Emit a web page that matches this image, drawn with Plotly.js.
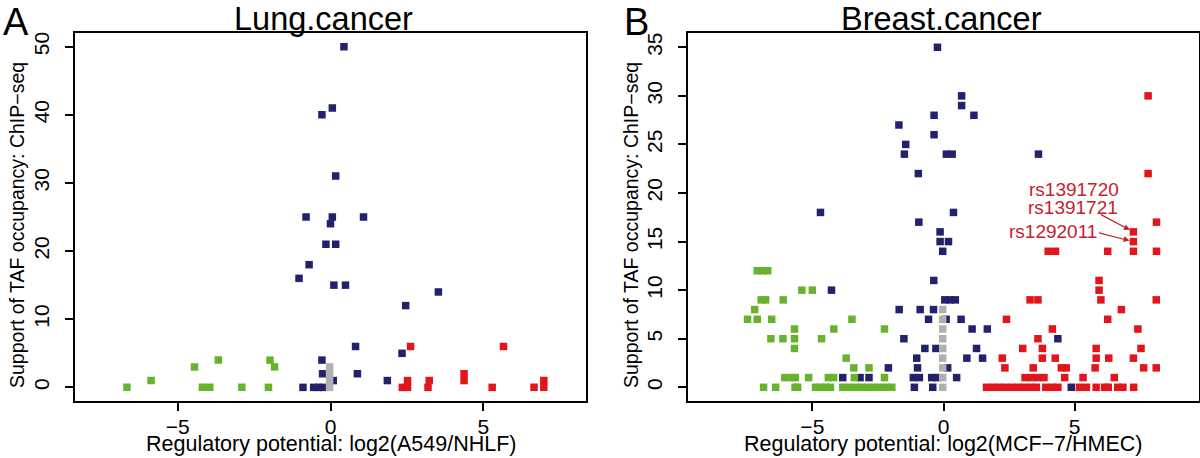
<!DOCTYPE html>
<html>
<head>
<meta charset="utf-8">
<script src="https://cdn.plot.ly/plotly-3.0.1.min.js"></script>
<style>html,body{margin:0;padding:0;background:#fff}#chart{width:1200px;height:458px}</style>
</head>
<body>
<div id="chart"></div>
<script>
// ---------- Data: Panel A (Lung.cancer) ----------
const lungNavyX = [0.44, 0.06, -0.28, 0.17, -0.80, 0.06, 0.00, 1.08, -0.15, 0.17, -0.70, -1.03, 0.11, 0.49, 3.53, 2.46, 0.82, 2.34, -0.28, 0.88, -0.26, 1.86, 0.09, -0.90, -0.55, -0.40, -0.25];
const lungNavyY = [50, 41, 40, 31, 25, 25, 24, 25, 21, 21, 18, 16, 15, 15, 14, 12, 6, 5, 4, 2, 2, 1, 1, 0, 0, 0, 0];
const lungGreenX = [-6.66, -5.87, -4.45, -3.67, -4.19, -3.95, -2.90, -2.03, -1.98, -1.83];
const lungGreenY = [0, 1, 3, 4, 0, 0, 0, 0, 4, 3];
const lungRedX = [2.35, 2.52, 2.52, 2.62, 3.19, 3.23, 4.37, 4.37, 5.29, 5.66, 6.66, 6.98, 6.98];
const lungRedY = [0, 0, 1, 6, 0, 1, 1, 2, 0, 6, 0, 0, 1];
const lungGrayX = [-0.03, -0.03, -0.03, -0.03];
const lungGrayY = [0, 1, 2, 3];

// ---------- Data: Panel B (Breast.cancer) ----------
const breastNavyX = [-0.23, 0.69, 0.69, 1.16, -0.36, -1.70, -0.36, -1.44, -1.49, 0.11, 0.33, 3.62, -0.96, -4.69, 0.38, -0.94, -0.13, -0.13, 0.19, -0.03,
  -0.37, -4.27, 0.05, 0.25, 0.45, -1.69, -0.89, -0.38, -0.57, 0.10, 0.67, 1.09, 1.67, -1.51, 4.36, -0.71, -0.29, 1.26, -1.02, 0.89, 1.49, -0.99, 0.16, -2.10,
  -3.84, -3.18, -2.84, -1.15, -0.92, -0.45, -0.25, 0.50, -1.11, -0.41, 4.87];
const breastNavyY = [35, 30, 29, 28, 28, 27, 26, 25, 24, 24, 24, 24, 22, 18, 18, 17, 16, 15, 15, 14,
  11, 10, 9, 9, 9, 8, 8, 8, 7, 7, 7, 6, 6, 5, 5, 4, 4, 4, 3, 3, 3, 2, 2, 2,
  1, 1, 1, 1, 1, 1, 1, 1, 0, 0, 0];
const breastGreenX = [-7.10, -6.90, -6.70, -5.40, -5.00, -6.95, -6.78, -6.11, -7.20, -7.47, -7.10, -6.55, -3.49, -5.68, -4.18, -2.25, -6.58, -6.12, -5.68, -4.65, -5.68, -3.71, -3.42, -2.84,
  -6.05, -5.78, -5.65, -5.14, -4.39, -4.19, -3.40, -2.25,
  -6.86, -6.40, -5.66, -5.56, -4.88, -4.69, -4.50, -4.31, -3.84, -3.60, -3.36, -3.12, -2.88, -2.64, -2.40, -2.18, -1.97];
const breastGreenY = [12, 12, 12, 10, 10, 9, 9, 9, 8, 7, 7, 7, 7, 6, 6, 6, 5, 5, 5, 5, 4, 3, 2, 2,
  1, 1, 1, 1, 1, 1, 1, 1,
  0, 0, 0, 0, 0, 0, 0, 0, 0, 0, 0, 0, 0, 0, 0, 0, 0];
const breastRedX = [7.80, 7.80, 8.12, 7.24, 7.24, 7.24, 8.12, 6.26, 3.99, 4.27,
  5.93, 5.93, 6.00, 3.30, 3.60, 8.11, 6.78, 2.40, 6.26, 4.15, 7.41, 3.60, 3.02, 3.77, 5.82, 7.53, 2.24, 3.77, 4.26, 5.82, 6.30, 7.24, 2.34, 3.42, 4.49, 4.68, 5.78, 7.63, 8.11,
  3.11, 3.35, 3.59, 3.83, 4.62, 5.32, 6.51,
  1.64, 1.88, 2.12, 2.36, 2.60, 2.84, 3.08, 3.32, 3.54, 3.90, 4.15, 4.36, 5.18, 5.45, 5.82, 6.14, 6.28, 6.64, 6.84, 7.25];
const breastRedY = [30, 22, 17, 16, 15, 14, 14, 14, 14, 14,
  11, 10, 9, 9, 9, 9, 8, 7, 7, 6, 6, 5, 4, 4, 4, 4, 3, 3, 3, 3, 3, 3, 2, 2, 2, 2, 2, 2, 2,
  1, 1, 1, 1, 1, 1, 1,
  0, 0, 0, 0, 0, 0, 0, 0, 0, 0, 0, 0, 0, 0, 0, 0, 0, 0, 0, 0];
const breastGrayX = [-0.03, -0.03, -0.03, -0.03, -0.03, -0.03, -0.03, -0.03, -0.03];
const breastGrayY = [0, 1, 2, 3, 4, 5, 6, 7, 8];

const snpLabels = ["rs1391720", "rs1391721", "rs1292011"];
const snpX = [7.24, 7.24];
const snpY = [16, 15];

// ---------- Styling ----------
const W = 1200, H = 458;
const px = v => v / W;
const py = v => 1 - v / H;
const FONT = "Liberation Sans, Arial, Helvetica, sans-serif";
const NAVY = "#22226c", GREEN = "#68b32e", RED = "#e2141c", GRAY = "#b0b0b0", TXTRED = "#c8202c";

function pts(x, y, color, xa, ya) {
  return {x: x, y: y, type: "scatter", mode: "markers", xaxis: xa, yaxis: ya, hoverinfo: "skip",
    marker: {symbol: "square", size: 7.5, color: color, line: {width: 0}}, showlegend: false};
}

const data = [
  pts(lungNavyX, lungNavyY, NAVY, "x", "y"),
  pts(lungGreenX, lungGreenY, GREEN, "x", "y"),
  pts(lungRedX, lungRedY, RED, "x", "y"),
  pts(lungGrayX, lungGrayY, GRAY, "x", "y"),
  pts(breastNavyX, breastNavyY, NAVY, "x2", "y2"),
  pts(breastGreenX, breastGreenY, GREEN, "x2", "y2"),
  pts(breastRedX, breastRedY, RED, "x2", "y2"),
  pts(breastGrayX, breastGrayY, GRAY, "x2", "y2")
];

const axCommon = {showgrid: false, zeroline: false, showline: true, mirror: true, linecolor: "#000", linewidth: 2,
  ticks: "outside", ticklen: 8, tickwidth: 2, tickcolor: "#000", tickfont: {family: FONT, size: 21, color: "#000"}, fixedrange: true};

function label(text, x, y, size, color, angle) {
  return {text: text, x: px(x), y: py(y), xref: "paper", yref: "paper", xanchor: "center", yanchor: "middle",
    showarrow: false, textangle: angle || 0, font: {family: FONT, size: size, color: color || "#000"}};
}

const yDom = [py(401), py(33)];
const layout = {
  width: W, height: H, margin: {l: 0, r: 0, t: 0, b: 0}, paper_bgcolor: "#fff", plot_bgcolor: "#fff", showlegend: false,
  xaxis: Object.assign({}, axCommon, {domain: [px(75.3), px(585.7)], range: [-8.35, 8.35], tickvals: [-5, 0, 5], ticklabelstandoff: -2, anchor: "y"}),
  yaxis: Object.assign({}, axCommon, {domain: yDom, range: [-2, 52], tickvals: [0, 10, 20, 30, 40, 50], tickangle: -90, ticklabelstandoff: 8, anchor: "x"}),
  xaxis2: Object.assign({}, axCommon, {domain: [px(688), px(1199)], range: [-9.74, 9.74], tickvals: [-5, 0, 5], ticklabelstandoff: -2, anchor: "y2"}),
  yaxis2: Object.assign({}, axCommon, {domain: yDom, range: [-1.41, 36.47], tickvals: [0, 5, 10, 15, 20, 25, 30, 35], tickangle: -90, ticklabelstandoff: 8, anchor: "x2"}),
  annotations: [
    label("A", 16, 22, 38),
    label("B", 636, 22, 38),
    label("Lung.cancer", 323, 19, 32.5),
    label("Breast.cancer", 941, 19, 32.5),
    label("Regulatory potential: log2(A549/NHLF)", 331, 444, 21.5),
    label("Regulatory potential: log2(MCF\u22127/HMEC)", 943.5, 444, 21.5),
    label("Support of TAF occupancy: ChIP\u2212seq", 17, 225, 19.5, "#000", -90),
    label("Support of TAF occupancy: ChIP\u2212seq", 631, 225, 19.5, "#000", -90),
    label(snpLabels[0], 1074, 190, 19, TXTRED),
    label(snpLabels[1], 1073, 207, 19, TXTRED),
    label(snpLabels[2], 1053, 232, 19, TXTRED),
    {text: "", x: snpX[0], y: snpY[0], xref: "x2", yref: "y2", showarrow: true, ax: -34, ay: -18, arrowhead: 2, arrowsize: 1, arrowwidth: 1.2, arrowcolor: TXTRED, standoff: 4},
    {text: "", x: snpX[1], y: snpY[1], xref: "x2", yref: "y2", showarrow: true, ax: -36, ay: -9, arrowhead: 2, arrowsize: 1, arrowwidth: 1.2, arrowcolor: TXTRED, standoff: 4}
  ]
};

Plotly.newPlot("chart", data, layout, {displayModeBar: false, staticPlot: true});
</script>
</body>
</html>
